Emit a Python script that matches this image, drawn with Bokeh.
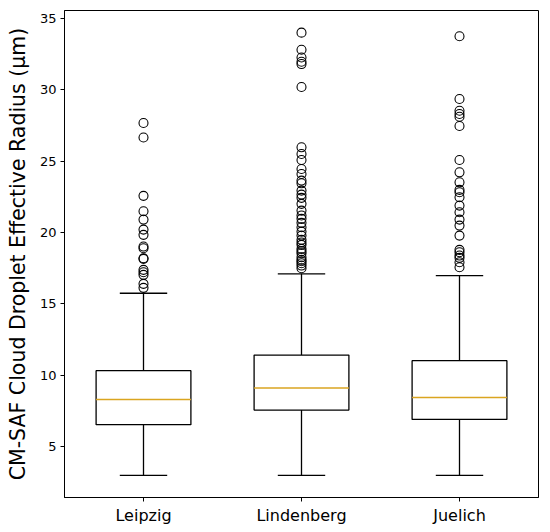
from bokeh.plotting import figure
from bokeh.models import ColumnDataSource, FactorRange, Range1d, SingleIntervalTicker
from bokeh.transform import dodge
from bokeh.embed import file_html
from bokeh.resources import INLINE

# box statistics
sites = ['Leipzig', 'Lindenberg', 'Juelich']
q1 = [6.55, 7.57, 6.92]
median = [8.32, 9.11, 8.46]
q3 = [10.33, 11.42, 11.03]
whisker_lo = [3.0, 3.0, 3.0]
whisker_hi = [15.75, 17.11, 16.99]

# outliers (fliers)
out_leipzig = [27.67, 26.66, 22.57, 21.49, 20.91, 20.21, 19.84, 19.02, 18.90,
               18.20, 18.16, 17.39, 17.22, 17.04, 16.41, 16.13]
out_lindenberg = [34.0, 32.8, 32.26, 31.96, 31.80, 30.19, 25.97, 25.50, 25.08,
                  24.45, 24.10, 23.64, 23.45, 22.94, 22.66, 22.43, 22.01, 21.54,
                  21.20, 20.96, 20.68, 20.37, 20.07, 19.79, 19.49, 19.30, 19.14,
                  18.86, 18.70, 18.55, 18.27, 18.10, 17.99, 17.85, 17.69, 17.50]
out_juelich = [33.75, 29.35, 28.53, 28.30, 28.11, 27.46, 25.08, 24.22, 23.52,
               22.99, 22.82, 22.47, 21.89, 21.42, 20.91, 20.49, 19.79, 18.79,
               18.62, 18.39, 18.23, 17.92, 17.57]

y_label = 'CM-SAF Cloud Droplet Effective Radius (\u03bcm)'

box = ColumnDataSource(dict(site=sites, q1=q1, median=median, q3=q3,
                            lo=whisker_lo, hi=whisker_hi))

fl_x = []
fl_y = []
for s, vals in zip(sites, [out_leipzig, out_lindenberg, out_juelich]):
    fl_x += [s] * len(vals)
    fl_y += vals
fliers = ColumnDataSource(dict(x=fl_x, y=fl_y))

p = figure(width=550, height=532, output_backend="svg", toolbar_location=None,
           x_range=FactorRange(*sites, range_padding=0),
           y_range=Range1d(1.45, 35.55),
           min_border_left=64, min_border_right=12, min_border_top=10,
           min_border_bottom=35)

# whiskers
p.segment(x0='site', y0='q3', x1='site', y1='hi', source=box,
          line_color='black', line_width=1.3)
p.segment(x0='site', y0='q1', x1='site', y1='lo', source=box,
          line_color='black', line_width=1.3)
# caps
for col in ['hi', 'lo']:
    p.segment(x0=dodge('site', -0.15, range=p.x_range), y0=col,
              x1=dodge('site', 0.15, range=p.x_range), y1=col, source=box,
              line_color='black', line_width=1.3)

# boxes
p.vbar(x='site', bottom='q1', top='q3', width=0.6, source=box,
       fill_color='white', line_color='black', line_width=1.3)
# medians
p.segment(x0=dodge('site', -0.3, range=p.x_range), y0='median',
          x1=dodge('site', 0.3, range=p.x_range), y1='median', source=box,
          line_color='#daa520', line_width=1.5)

p.scatter(x='x', y='y', source=fliers, marker='circle', size=9,
          fill_color=None, line_color='black', line_width=1.1)

p.xgrid.visible = False
p.ygrid.visible = False
p.outline_line_color = 'black'
p.outline_line_alpha = 1

p.yaxis.ticker = SingleIntervalTicker(interval=5)
p.yaxis.minor_tick_line_color = None
p.yaxis.axis_label = y_label
p.yaxis.axis_label_text_font = 'DejaVu Sans'
p.yaxis.axis_label_text_font_size = '20.5px'
p.yaxis.axis_label_text_font_style = 'normal'
p.yaxis.axis_label_text_color = 'black'
p.yaxis.axis_label_standoff = 7

for ax in [p.xaxis, p.yaxis]:
    ax.axis_line_color = 'black'
    ax.major_tick_line_color = 'black'
    ax.major_tick_out = 4
    ax.major_tick_in = 0
    ax.major_label_text_color = 'black'
    ax.major_label_text_font = 'DejaVu Sans'

p.yaxis.major_label_text_font_size = '13px'
p.xaxis.major_label_text_font_size = '16px'
p.yaxis.major_label_standoff = 4
p.xaxis.major_label_standoff = 4

open("out.html", "w").write(file_html(p, INLINE))
